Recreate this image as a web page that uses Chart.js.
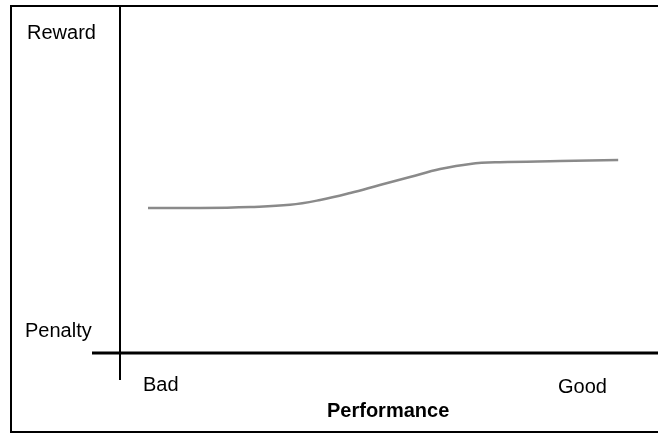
<!DOCTYPE html>
<html>
<head>
<meta charset="utf-8">
<script src="https://cdn.jsdelivr.net/npm/chart.js@4"></script>
<style>
  html, body { margin: 0; padding: 0; background: #fff; }
  #wrap { width: 658px; height: 434px; }
</style>
</head>
<body>
<div id="wrap"><canvas id="perfChart" width="658" height="434"></canvas></div>
<script>
// performance (0 = bad, 100 = good) vs reward (0 = penalty, 100 = reward)
const performance = [5.2, 14.9, 24.2, 31.6, 37.2, 42.8, 48.3, 53.9, 59.5, 65.1, 70.6, 81.8, 92.6];
const reward = [41.8, 41.8, 42.1, 42.7, 44.1, 46.1, 48.4, 50.7, 53.0, 54.5, 55.0, 55.3, 55.6];

const yLabels = ["Reward", "Penalty"];
const xLabels = ["Bad", "Good"];
const xTitle = "Performance";

// frame, axes and text
const diagramPlugin = {
  id: "diagram",
  afterDraw(chart) {
    const ctx = chart.ctx;
    const area = chart.chartArea;
    ctx.save();
    ctx.strokeStyle = "#000";

    // outer box (open on the right)
    ctx.lineWidth = 2;
    ctx.beginPath();
    ctx.moveTo(658, 6);
    ctx.lineTo(11, 6);
    ctx.lineTo(11, 432);
    ctx.lineTo(658, 432);
    ctx.stroke();

    // vertical axis
    ctx.lineWidth = 2;
    ctx.beginPath();
    ctx.moveTo(area.left, 6);
    ctx.lineTo(area.left, 380);
    ctx.stroke();

    // horizontal axis
    ctx.lineWidth = 3;
    ctx.beginPath();
    ctx.moveTo(92, area.bottom);
    ctx.lineTo(658, area.bottom);
    ctx.stroke();

    ctx.fillStyle = "#000";
    ctx.textBaseline = "alphabetic";
    ctx.textAlign = "left";
    ctx.font = "20px 'Liberation Sans', Arial, sans-serif";
    ctx.fillText(yLabels[0], 27, 39);
    ctx.fillText(yLabels[1], 25, 337);
    ctx.fillText(xLabels[0], 143, 391);
    ctx.fillText(xLabels[1], 558, 393);

    ctx.font = "bold 20px 'Liberation Sans', Arial, sans-serif";
    ctx.fillText(xTitle, 327, 417);
    ctx.restore();
  }
};

const ctx = document.getElementById("perfChart").getContext("2d");
new Chart(ctx, {
  type: "line",
  data: {
    datasets: [
      {
        data: performance.map((p, i) => ({ x: p, y: reward[i] })),
        borderColor: "#8a8a8a",
        borderWidth: 2.5,
        pointRadius: 0,
        tension: 0.4,
        fill: false,
        clip: false,
      },
    ],
  },
  options: {
    responsive: false,
    animation: false,
    layout: { padding: { left: 120, right: 0, top: 6, bottom: 81 } },
    plugins: {
      legend: { display: false },
      tooltip: { enabled: false },
    },
    scales: {
      x: { type: "linear", min: 0, max: 100, display: false },
      y: { min: 0, max: 100, display: false },
    },
  },
  plugins: [diagramPlugin],
});
</script>
</body>
</html>
